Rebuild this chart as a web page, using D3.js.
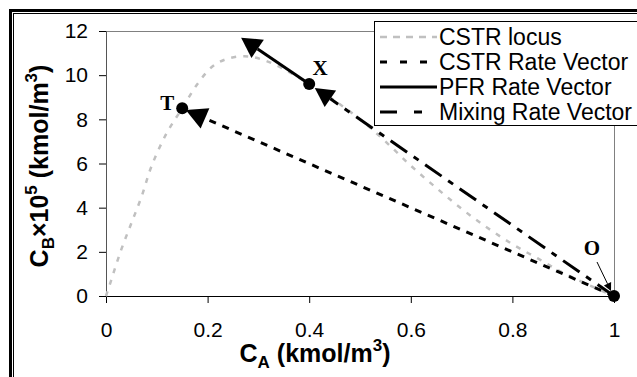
<!DOCTYPE html>
<html>
<head>
<meta charset="utf-8">
<script src="https://cdn.jsdelivr.net/npm/d3@7"></script>
<style>
  body { margin: 0; background: #fff; }
  svg { display: block; }
</style>
</head>
<body>
<div id="wrap"></div>
<script>
// CSTR locus
const locusCA = [0, 0.01, 0.03, 0.05, 0.07, 0.09, 0.12, 0.15, 0.18, 0.21, 0.24, 0.28, 0.32, 0.36, 0.40, 0.45, 0.50, 0.55, 0.60, 0.65, 0.70, 0.75, 0.80, 0.85, 0.90, 0.95, 1.0];
const locusCB = [0, 0.7, 2.1, 3.3, 4.5, 5.9, 7.4, 8.5, 9.6, 10.4, 10.75, 10.85, 10.6, 10.15, 9.6, 8.85, 8.0, 7.0, 5.9, 4.9, 3.95, 3.1, 2.35, 1.7, 1.05, 0.5, 0];

// labelled points
const pointNames = ['T', 'X', 'O'];
const pointCA = [0.15, 0.40, 1.0];
const pointCB = [8.5, 9.6, 0];

// rate vectors: [startCA, startCB, endCA, endCB]
const cstrVector = [1.0, 0, 0.157, 8.42];
const pfrVector = [0.40, 9.6, 0.266, 11.7];
const mixVector = [1.0, 0, 0.411, 9.42];

const xTicks = [0, 0.2, 0.4, 0.6, 0.8, 1];
const yTicks = [0, 2, 4, 6, 8, 10, 12];
const legendNames = ['CSTR locus', 'CSTR Rate Vector', 'PFR Rate Vector', 'Mixing Rate Vector'];

const W = 637, H = 377;
const margin = {top: 31, right: 23, bottom: 81, left: 106};
const width = W - margin.left - margin.right,
      height = H - margin.top - margin.bottom;

const svg = d3.select('#wrap').append('svg')
    .attr('width', W)
    .attr('height', H);

// outer frame (double line top and left)
svg.append('rect').attr('x', 9).attr('y', 9).attr('width', W).attr('height', 3).attr('fill', '#000');
svg.append('rect').attr('x', 13).attr('y', 13).attr('width', W).attr('height', 1).attr('fill', '#000');
svg.append('rect').attr('x', 9).attr('y', 9).attr('width', 3).attr('height', H).attr('fill', '#000');
svg.append('rect').attr('x', 13).attr('y', 13).attr('width', 1).attr('height', H).attr('fill', '#000');

const g = svg.append('g')
    .attr('transform', 'translate(' + margin.left + ',' + margin.top + ')');

const x = d3.scaleLinear().domain([0, 1]).range([0, width]);
const y = d3.scaleLinear().domain([0, 12]).range([height, 0]);

// plot area border (top and right, grey)
g.append('path')
    .attr('d', 'M0,0.5H' + (x(1) + 0.5) + 'V' + height)
    .attr('fill', 'none')
    .attr('stroke', '#808080')
    .attr('stroke-width', 1);

// axes
const xAxis = g.append('g')
    .attr('transform', 'translate(0,' + height + ')')
    .call(d3.axisBottom(x).tickValues(xTicks).tickSize(7).tickPadding(19).tickFormat(d => String(d)));
const yAxis = g.append('g')
    .call(d3.axisLeft(y).tickValues(yTicks).tickSize(7).tickPadding(11).tickFormat(d => String(d)));

[xAxis, yAxis].forEach(a => {
  a.selectAll('text')
      .attr('fill', '#000')
      .style('font-family', 'Liberation Sans, Arial, sans-serif')
      .style('font-size', '21px');
  a.selectAll('line').attr('stroke', '#000');
});
xAxis.select('.domain').attr('stroke', '#000');
yAxis.select('.domain').attr('stroke', '#555');

// CSTR locus
const locus = locusCA.map((d, i) => [d, locusCB[i]]);
g.append('path')
    .datum(locus)
    .attr('fill', 'none')
    .attr('stroke', '#c0c0c0')
    .attr('stroke-width', 2.5)
    .attr('stroke-dasharray', '5,7')
    .attr('d', d3.line().curve(d3.curveCatmullRom).x(d => x(d[0])).y(d => y(d[1])));

// vector with arrowhead at the end
function drawVector(v, dash, sw, headLen, headHalf) {
  const x0 = x(v[0]), y0 = y(v[1]), x1 = x(v[2]), y1 = y(v[3]);
  const dx = x1 - x0, dy = y1 - y0, len = Math.sqrt(dx * dx + dy * dy);
  const ux = dx / len, uy = dy / len;
  const bx = x1 - ux * headLen, by = y1 - uy * headLen;
  g.append('line')
      .attr('x1', x0).attr('y1', y0)
      .attr('x2', bx).attr('y2', by)
      .attr('stroke', '#000')
      .attr('stroke-width', sw)
      .attr('stroke-dasharray', dash);
  g.append('path')
      .attr('d', 'M' + x1 + ',' + y1 +
                 'L' + (bx - uy * headHalf) + ',' + (by + ux * headHalf) +
                 'L' + (bx + uy * headHalf) + ',' + (by - ux * headHalf) + 'Z')
      .attr('fill', '#000');
}

drawVector(cstrVector, '7,7', 3, 21, 11);
drawVector(mixVector, '20,8,6,8', 3, 19, 10);
drawVector(pfrVector, null, 3, 20, 11);

// points
g.selectAll('.pt')
    .data(pointNames)
  .enter().append('circle')
    .attr('class', 'pt')
    .attr('cx', (d, i) => x(pointCA[i]))
    .attr('cy', (d, i) => y(pointCB[i]))
    .attr('r', 6)
    .attr('fill', '#000');

// point labels
const labelDx = [-15, 11, -22];
const labelDy = [2, -9, -41];
g.selectAll('.plab')
    .data(pointNames)
  .enter().append('text')
    .attr('class', 'plab')
    .attr('x', (d, i) => x(pointCA[i]) + labelDx[i])
    .attr('y', (d, i) => y(pointCB[i]) + labelDy[i])
    .attr('text-anchor', 'middle')
    .style('font-family', 'Liberation Serif, Times New Roman, serif')
    .style('font-weight', 'bold')
    .style('font-size', '21px')
    .text(d => d);

// small pointer from the O label to the point
{
  const ox = x(pointCA[2]), oy = y(pointCB[2]);
  const sx = ox - 17, sy = oy - 34, ex = ox - 3, ey = oy - 5;
  const dx = ex - sx, dy = ey - sy, len = Math.sqrt(dx * dx + dy * dy);
  const ux = dx / len, uy = dy / len, bx = ex - ux * 8, by = ey - uy * 8;
  g.append('line').attr('x1', sx).attr('y1', sy).attr('x2', bx).attr('y2', by)
      .attr('stroke', '#000').attr('stroke-width', 1);
  g.append('path')
      .attr('d', 'M' + ex + ',' + ey + 'L' + (bx - uy * 4) + ',' + (by + ux * 4) + 'L' + (bx + uy * 4) + ',' + (by - ux * 4) + 'Z')
      .attr('fill', '#000');
}

// legend
const leg = svg.append('g').attr('transform', 'translate(374,21)');
leg.append('rect')
    .attr('x', 0.5).attr('y', 0.5)
    .attr('width', 300).attr('height', 104)
    .attr('fill', '#fff')
    .attr('stroke', '#000');
const legStroke = ['#c0c0c0', '#000', '#000', '#000'];
const legDash = ['7,6', '7,13', null, '17,17,8,20'];
const legWidth = [2.5, 3, 3, 3];
legendNames.forEach((name, i) => {
  const ly = 16 + i * 25;
  leg.append('line')
      .attr('x1', 6).attr('x2', 63)
      .attr('y1', ly).attr('y2', ly)
      .attr('stroke', legStroke[i])
      .attr('stroke-width', legWidth[i])
      .attr('stroke-dasharray', legDash[i]);
  leg.append('text')
      .attr('x', 65).attr('y', ly + 8)
      .style('font-family', 'Liberation Sans, Arial, sans-serif')
      .style('font-size', '23px')
      .text(name);
});

// axis titles
const xt = svg.append('text')
    .attr('x', 315).attr('y', 362)
    .attr('text-anchor', 'middle')
    .style('font-family', 'Liberation Sans, Arial, sans-serif')
    .style('font-weight', 'bold')
    .style('font-size', '25px');
xt.append('tspan').text('C');
xt.append('tspan').attr('dy', 6).style('font-size', '17px').text('A');
xt.append('tspan').attr('dy', -6).text(' (kmol/m');
xt.append('tspan').attr('dy', -11).style('font-size', '17px').text('3');
xt.append('tspan').attr('dy', 11).text(')');

const yt = svg.append('text')
    .attr('transform', 'translate(48,166) rotate(-90)')
    .attr('text-anchor', 'middle')
    .style('font-family', 'Liberation Sans, Arial, sans-serif')
    .style('font-weight', 'bold')
    .style('font-size', '25px');
yt.append('tspan').text('C');
yt.append('tspan').attr('dy', 6).style('font-size', '17px').text('B');
yt.append('tspan').attr('dy', -6).text('×10');
yt.append('tspan').attr('dy', -11).style('font-size', '17px').text('5');
yt.append('tspan').attr('dy', 11).text(' (kmol/m');
yt.append('tspan').attr('dy', -11).style('font-size', '17px').text('3');
yt.append('tspan').attr('dy', 11).text(')');
</script>
</body>
</html>
